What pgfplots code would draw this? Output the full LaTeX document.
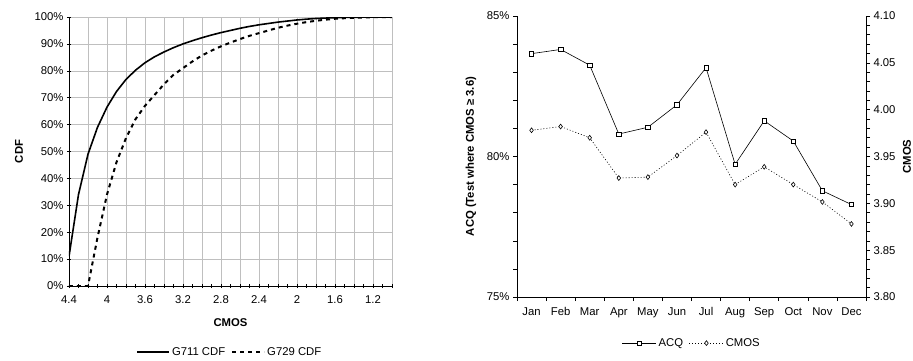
\documentclass[border=0pt]{standalone}
\usepackage{pgfplots}
\pgfplotsset{compat=1.18}
\usepackage{fontspec}
\setmainfont{Liberation Sans}
\newcommand{\tfont}{\fontsize{11.3}{13}\selectfont}
\begin{document}
\begin{tikzpicture}
\path[use as bounding box] (0pt,0pt) rectangle (913pt,360pt);
% ---------------- Left chart ----------------
\begin{axis}[
  at={(69pt,74pt)}, anchor=south west, scale only axis, width=323pt, height=269pt,
  x dir=reverse, xmin=1.0, xmax=4.4, ymin=0, ymax=100,
  axis lines*=left, axis line style={-,black,line width=0.8pt},
  xtick={1.0,1.2,1.4,1.6,1.8,2.0,2.2,2.4,2.6,2.8,3.0,3.2,3.4,3.6,3.8,4.0,4.2,4.4},
  xticklabels={,1.2,,1.6,,2,,2.4,,2.8,,3.2,,3.6,,4,,4.4},
  minor x tick num=1,
  ytick={0,10,20,30,40,50,60,70,80,90,100},
  yticklabels={0\%,10\%,20\%,30\%,40\%,50\%,60\%,70\%,80\%,90\%,100\%},
  grid=major, major grid style={black!25, line width=0.6pt},
  tick align=center, major tick length=4pt, minor tick length=4pt,
  tick style={black, line width=0.6pt},
  ticklabel style={font=\tfont},
  xticklabel style={yshift=-4pt},
  xlabel={CMOS}, ylabel={CDF},
  label style={font=\tfont\bfseries},
  xlabel style={at={(axis description cs:0.5,-0.1375)}, anchor=center},
  ylabel style={at={(axis description cs:-0.155,0.5)}, anchor=center},
  legend style={at={(axis description cs:0.498,-0.245)}, anchor=center, draw=none, fill=none,
    font=\tfont, legend columns=2, /tikz/every even column/.append style={column sep=4pt}},
  legend image code/.code={\draw[#1] (0pt,0pt) -- (32pt,0pt);},
]
\addplot[black, line width=1.6pt] coordinates {
(4.4,11) (4.3,34) (4.2,49) (4.1,59) (4.0,66.5) (3.9,72.3) (3.8,76.8) (3.7,80.2) (3.6,83)
(3.5,85.2) (3.4,87) (3.3,88.6) (3.2,90) (3.1,91.2) (3.0,92.3) (2.9,93.3) (2.8,94.2)
(2.7,95) (2.6,95.8) (2.5,96.5) (2.4,97.1) (2.3,97.6) (2.2,98.1) (2.1,98.5) (2.0,98.9)
(1.9,99.2) (1.8,99.45) (1.7,99.6) (1.6,99.75) (1.5,99.85) (1.4,99.9) (1.3,99.95)
(1.2,100) (1.1,100) (1.0,100)};
\addlegendentry{G711 CDF}
\addplot[black, line width=2pt, dash pattern=on 4pt off 4pt] coordinates {
(4.4,0) (4.3,0) (4.2,0) (4.1,18) (4.0,34) (3.9,46) (3.8,55) (3.7,62) (3.6,67)
(3.5,71) (3.4,75) (3.3,78.5) (3.2,81) (3.1,83.5) (3.0,85.7) (2.9,87.5) (2.8,89.1)
(2.7,90.5) (2.6,91.8) (2.5,93) (2.4,94) (2.3,95) (2.2,96) (2.1,96.8) (2.0,97.5)
(1.9,98.1) (1.8,98.6) (1.7,99) (1.6,99.35) (1.5,99.55) (1.4,99.7) (1.3,99.8)
(1.2,99.9) (1.1,100) (1.0,100)};
\addlegendentry{G729 CDF}
\end{axis}
% ---------------- Right chart ----------------
\begin{axis}[
  at={(517pt,63pt)}, anchor=south west, scale only axis, width=349pt, height=281pt,
  xmin=-0.5, xmax=11.5, ymin=75, ymax=85,
  axis x line*=bottom, axis y line*=left, axis line style={-,black,line width=0.8pt},
  xtick={-0.5,0.5,1.5,2.5,3.5,4.5,5.5,6.5,7.5,8.5,9.5,10.5,11.5},
  x tick label as interval,
  xticklabels={Jan,Feb,Mar,Apr,May,Jun,Jul,Aug,Sep,Oct,Nov,Dec},
  ytick={75,80,85}, yticklabels={75\%,80\%,85\%},
  minor y tick num=4,
  tick align=outside, major tick length=4pt, minor tick length=4pt,
  tick style={black, line width=0.6pt},
  ticklabel style={font=\tfont},
  xticklabel style={yshift=-3pt},
  ylabel={ACQ (Test where CMOS \char"2265\ 3.6)},
  label style={font=\tfont\bfseries},
  ylabel style={at={(axis description cs:-0.132,0.5)}, anchor=center},
  legend style={at={(axis description cs:0.501,-0.164)}, anchor=center, draw=none, fill=none,
    font=\tfont, legend columns=2, /tikz/every even column/.append style={column sep=4pt}},
  legend image code/.code={\draw[#1, mark repeat=2, mark phase=2] plot coordinates {(0pt,0pt) (17pt,0pt) (34pt,0pt)};},
]
\addplot[black, line width=0.6pt, mark=square*, mark size=2.2pt, mark options={solid, fill=white, line width=0.6pt}] coordinates {
(0,83.66) (1,83.81) (2,83.25) (3,80.8) (4,81.04) (5,81.84) (6,83.16) (7,79.72)
(8,81.27) (9,80.55) (10,78.78) (11,78.29)};
\addlegendentry{ACQ}
\addlegendimage{black, line width=0.6pt, dash pattern=on 1pt off 2pt, mark=diamond*, mark size=2.4pt, mark options={solid, fill=white, line width=0.6pt}}
\addlegendentry{CMOS}
\end{axis}
\begin{axis}[
  at={(517pt,63pt)}, anchor=south west, scale only axis, width=349pt, height=281pt,
  xmin=-0.5, xmax=11.5, ymin=3.8, ymax=4.1,
  axis x line=none, axis y line*=right, axis line style={-,black,line width=0.8pt},
  ytick={3.80,3.85,3.90,3.95,4.00,4.05,4.10},
  yticklabels={3.80,3.85,3.90,3.95,4.00,4.05,4.10},
  minor y tick num=4,
  tick align=outside, major tick length=4pt, minor tick length=4pt,
  tick style={black, line width=0.6pt},
  ticklabel style={font=\tfont},
  ylabel={CMOS},
  label style={font=\tfont\bfseries},
  ylabel style={at={(axis description cs:1.1175,0.5)}, anchor=center},
]
\addplot[black, line width=0.6pt, dash pattern=on 1pt off 2pt, mark=diamond*, mark size=2.4pt, mark options={solid, fill=white, line width=0.6pt}] coordinates {
(0,3.978) (1,3.982) (2,3.970) (3,3.927) (4,3.928) (5,3.951) (6,3.976) (7,3.920)
(8,3.939) (9,3.920) (10,3.9015) (11,3.878)};
\end{axis}
\end{tikzpicture}
\end{document}
